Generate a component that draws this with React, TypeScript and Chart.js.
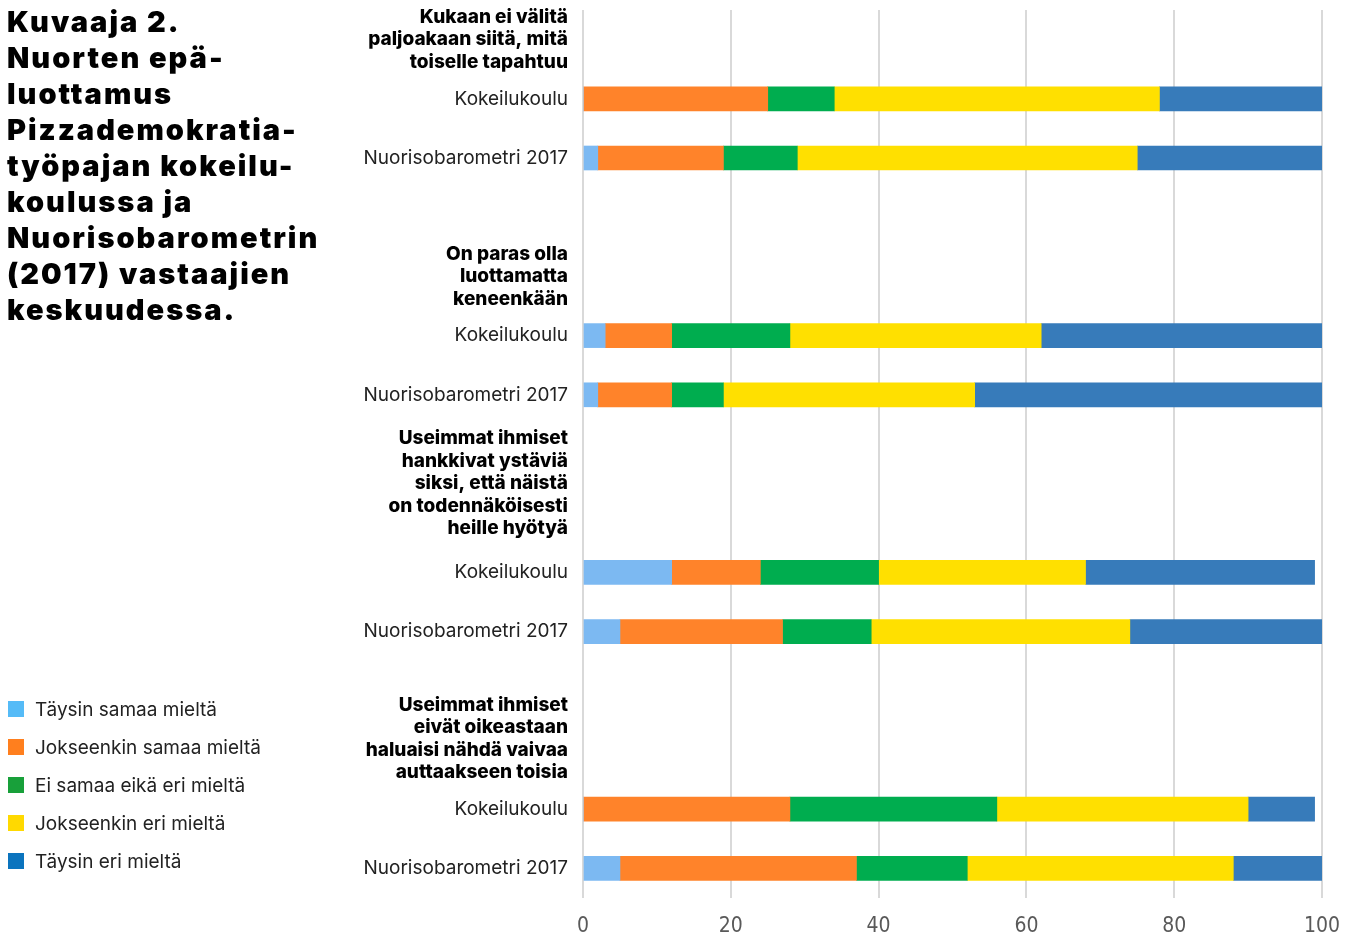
import React, { useEffect, useRef } from "react";
import { Chart, registerables } from "chart.js";

Chart.register(...registerables);

// Y-axis categories (headers are multi-line arrays, '' are spacer rows)
const categories: (string | string[])[] = [
  "",
  ["Kukaan ei välitä", "paljoakaan siitä, mitä", "toiselle tapahtuu"],
  "",
  "Kokeilukoulu",
  "",
  "Nuorisobarometri 2017",
  "",
  "",
  "",
  ["On paras olla", "luottamatta", "keneenkään"],
  "",
  "Kokeilukoulu",
  "",
  "Nuorisobarometri 2017",
  "",
  "",
  ["Useimmat ihmiset", "hankkivat ystäviä", "siksi, että näistä", "on todennäköisesti", "heille hyötyä"],
  "",
  "",
  "Kokeilukoulu",
  "",
  "Nuorisobarometri 2017",
  "",
  "",
  "",
  ["Useimmat ihmiset", "eivät oikeastaan", "haluaisi nähdä vaivaa", "auttaakseen toisia", ""],
  "",
  "Kokeilukoulu",
  "",
  "Nuorisobarometri 2017",
  "",
];

// Series values in order of bar rows (K1, N1, K2, N2, K3, N3, K4, N4)
const seriesNames = [
  "Täysin samaa mieltä",
  "Jokseenkin samaa mieltä",
  "Ei samaa eikä eri mieltä",
  "Jokseenkin eri mieltä",
  "Täysin eri mieltä",
];
const taysinSamaa = [0, 2, 3, 2, 12, 5, 0, 5];
const jokseenkinSamaa = [25, 17, 9, 10, 12, 22, 28, 32];
const eiSamaaEikaEri = [9, 10, 16, 7, 16, 12, 28, 15];
const jokseenkinEri = [44, 46, 34, 34, 28, 35, 34, 36];
const taysinEri = [22, 25, 38, 47, 31, 26, 9, 12];
const seriesValues = [taysinSamaa, jokseenkinSamaa, eiSamaaEikaEri, jokseenkinEri, taysinEri];

const xTicks = [0, 20, 40, 60, 80, 100];

const barColors = ["#7CB9F2", "#FF832A", "#00AD4F", "#FFE000", "#377BBA"];
const legendColors = ["#55BBF7", "#FF7F1E", "#18A03A", "#FFD900", "#0B74BE"];

const isBarRow = (c: string | string[]) => typeof c === "string" && c !== "";

function expand(values: number[]): (number | null)[] {
  let k = 0;
  return categories.map((c) => (isBarRow(c) ? values[k++] : null));
}

const titleLines = [
  "Kuvaaja 2.",
  "Nuorten epä-",
  "luottamus",
  "Pizzademokratia-",
  "työpajan kokeilu-",
  "koulussa ja",
  "Nuorisobarometrin",
  "(2017) vastaajien",
  "keskuudessa.",
];

export default function App() {
  const ref = useRef<HTMLCanvasElement | null>(null);

  useEffect(() => {
    if (!ref.current) return;
    const chart = new Chart(ref.current, {
      type: "bar",
      data: {
        labels: categories as any,
        datasets: seriesNames.map((name, i) => ({
          label: name,
          data: expand(seriesValues[i]),
          backgroundColor: barColors[i],
          borderWidth: 0,
          barThickness: 24,
        })),
      },
      options: {
        indexAxis: "y",
        animation: false,
        responsive: false,
        maintainAspectRatio: false,
        layout: { padding: { top: 10, right: 29, left: 0, bottom: 0 } },
        plugins: {
          legend: { display: false },
          tooltip: { enabled: false },
        },
        scales: {
          x: {
            stacked: true,
            min: 0,
            max: 100,
            afterBuildTicks: (scale: any) => {
              scale.ticks = xTicks.map((v) => ({ value: v }));
            },
            afterFit: (scale: any) => {
              scale.height = 40;
              scale.paddingLeft = 0;
              scale.paddingRight = 0;
            },
            grid: {
              color: "#D9D9D9",
              lineWidth: 2,
              drawTicks: false,
            },
            border: { display: false },
            ticks: {
              padding: 16,
              color: "#595959",
              font: { family: "'Liberation Sans Narrow', 'DejaVu Sans Condensed', sans-serif", size: 21 },
            },
          },
          y: {
            stacked: true,
            offset: false,
            afterFit: (scale: any) => {
              scale.width = 583;
              scale.paddingTop = 0;
              scale.paddingBottom = 0;
            },
            grid: { display: false, drawTicks: false },
            border: { display: false },
            ticks: {
              autoSkip: false,
              padding: 15,
              color: (ctx: any) => (Array.isArray(categories[ctx.index]) ? "#000000" : "#222222"),
              font: (ctx: any) =>
                Array.isArray(categories[ctx.index])
                  ? { family: "Inter, 'Noto Sans', sans-serif", size: 19, weight: "800", lineHeight: 1.18 }
                  : { family: "Inter, 'Noto Sans', sans-serif", size: 19, weight: "normal", lineHeight: 1.2 },
            },
          },
        },
      } as any,
    });
    return () => chart.destroy();
  }, []);

  return (
    <div style={{ position: "absolute", left: 0, top: 0, width: 1351, height: 938, background: "#fff" }}>
      <canvas ref={ref} width={1351} height={938} style={{ position: "absolute", left: 0, top: 0 }} />
      <div
        style={{
          position: "absolute",
          left: 7,
          top: 4,
          fontFamily: "Inter, 'Noto Sans', sans-serif",
          fontWeight: 900,
          fontSize: 29,
          lineHeight: "36px",
          color: "#000",
          letterSpacing: 2,
          whiteSpace: "nowrap",
        }}
      >
        {titleLines.map((l, i) => (
          <div key={i}>{l}</div>
        ))}
      </div>
      <div style={{ position: "absolute", left: 8, top: 690 }}>
        {seriesNames.map((name, i) => (
          <div key={i} style={{ display: "flex", alignItems: "center", height: 38 }}>
            <div style={{ width: 16, height: 16, background: legendColors[i], marginRight: 11 }} />
            <span
              style={{
                fontFamily: "Inter, 'Noto Sans', sans-serif",
                fontSize: 19,
                color: "#222",
              }}
            >
              {name}
            </span>
          </div>
        ))}
      </div>
    </div>
  );
}
